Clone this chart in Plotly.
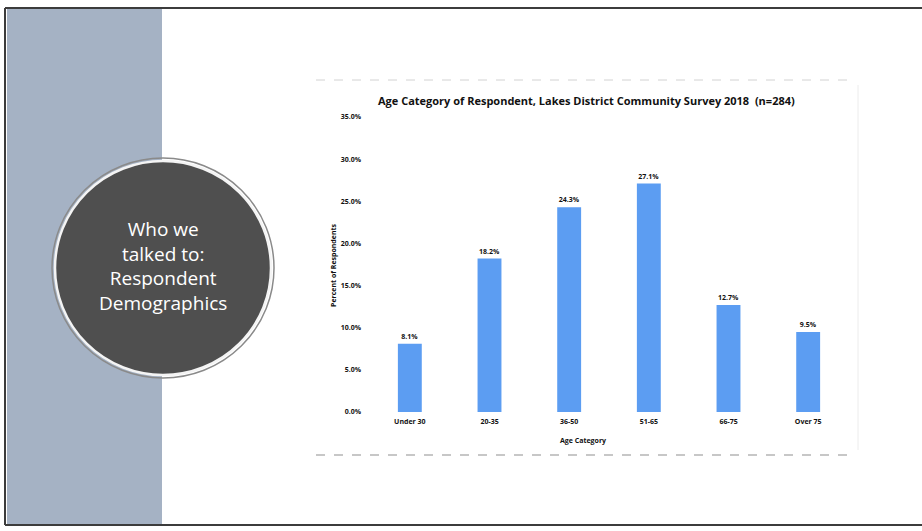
import plotly.graph_objects as go

# Survey data: share of respondents by age band
age_categories = ["Under 30", "20-35", "36-50", "51-65", "66-75", "Over 75"]
percent_respondents = [8.1, 18.2, 24.3, 27.1, 12.7, 9.5]
y_tick_values = [0, 5, 10, 15, 20, 25, 30, 35]

W, H = 922, 531
# plot area in page pixels
PL, PR, PT, PB = 370, 848, 117, 412


def px(x):
    # page pixel -> paper x (paper spans the plot area)
    return (x - PL) / (PR - PL)


def py(y):
    return (PB - y) / (PB - PT)


BAR_BLUE = "#5c9df2"
FONT = "Open Sans"

fig = go.Figure(
    go.Bar(
        x=age_categories,
        y=percent_respondents,
        marker=dict(color=BAR_BLUE, line=dict(width=0)),
        width=0.30,
        texttemplate="%{y:.1f}%",
        textposition="outside",
        cliponaxis=False,
        textfont=dict(family=FONT, size=7, color="#111111", weight="bold"),
    )
)

shapes = [
    # slide side strip
    dict(type="rect", xref="paper", yref="paper",
         x0=px(7), x1=px(162), y0=py(524), y1=py(9),
         fillcolor="#a5b2c4", line=dict(width=0), layer="below"),
    # slide frame
    dict(type="line", xref="paper", yref="paper",
         x0=px(5), x1=px(922), y0=py(8), y1=py(8),
         line=dict(color="#3c3c3c", width=2)),
    dict(type="line", xref="paper", yref="paper",
         x0=px(5), x1=px(5), y0=py(8), y1=py(525),
         line=dict(color="#3c3c3c", width=2)),
    dict(type="line", xref="paper", yref="paper",
         x0=px(5), x1=px(922), y0=py(525), y1=py(525),
         line=dict(color="#3c3c3c", width=2)),
    # section badge
    dict(type="circle", xref="paper", yref="paper",
         x0=px(52), x1=px(274), y0=py(378), y1=py(158),
         fillcolor="rgba(0,0,0,0)", line=dict(color="#8a8a8a", width=1.5),
         layer="below"),
    dict(type="circle", xref="paper", yref="paper",
         x0=px(55), x1=px(271), y0=py(375), y1=py(161),
         fillcolor="#4f4f4f", line=dict(color="#f4f4f4", width=2.5),
         layer="below"),
    # chart picture edges
    dict(type="line", xref="paper", yref="paper",
         x0=px(316), x1=px(856), y0=py(455), y1=py(455),
         line=dict(color="#8f8f8f", width=1.2, dash="dash")),
    dict(type="line", xref="paper", yref="paper",
         x0=px(316), x1=px(856), y0=py(80), y1=py(80),
         line=dict(color="#d2d2d2", width=1, dash="dash")),
    dict(type="line", xref="paper", yref="paper",
         x0=px(858), x1=px(858), y0=py(85), y1=py(450),
         line=dict(color="#ececec", width=1)),
]

annotations = [
    dict(text="Who we<br>talked to:<br>Respondent<br>Demographics",
         xref="paper", yref="paper", x=px(163), y=py(266),
         showarrow=False, align="center",
         font=dict(family=FONT, size=19, color="#ffffff"),
         xanchor="center", yanchor="middle"),
    dict(text="Age Category of Respondent, Lakes District Community Survey 2018  (n=284)",
         xref="paper", yref="paper", x=px(586), y=py(101),
         showarrow=False, xanchor="center", yanchor="middle",
         font=dict(family=FONT, size=11, color="#111111", weight="bold")),
    dict(text="Percent of Respondents",
         xref="paper", yref="paper", x=px(333), y=py(265),
         showarrow=False, textangle=-90, xanchor="center", yanchor="middle",
         font=dict(family=FONT, size=7, color="#111111", weight="bold")),
    dict(text="Age Category",
         xref="paper", yref="paper", x=px(583), y=py(440),
         showarrow=False, xanchor="center", yanchor="middle",
         font=dict(family=FONT, size=7, color="#111111", weight="bold")),
]

fig.update_layout(
    width=W, height=H,
    margin=dict(l=PL, r=W - PR, t=PT, b=H - PB, pad=0),
    paper_bgcolor="#ffffff",
    plot_bgcolor="rgba(0,0,0,0)",
    showlegend=False,
    shapes=shapes,
    annotations=annotations,
    xaxis=dict(
        showgrid=False, showline=False, zeroline=False, ticks="",
        tickfont=dict(family=FONT, size=7, color="#111111", weight="bold"),
        ticklabelstandoff=4,
    ),
    yaxis=dict(
        range=[0, 35], tickvals=y_tick_values,
        ticktext=[f"{v:.1f}%" for v in y_tick_values],
        showgrid=False, showline=False, zeroline=False, ticks="",
        tickfont=dict(family=FONT, size=7, color="#111111", weight="bold"),
        ticklabelstandoff=8,
    ),
)

fig.write_html("out.html")
